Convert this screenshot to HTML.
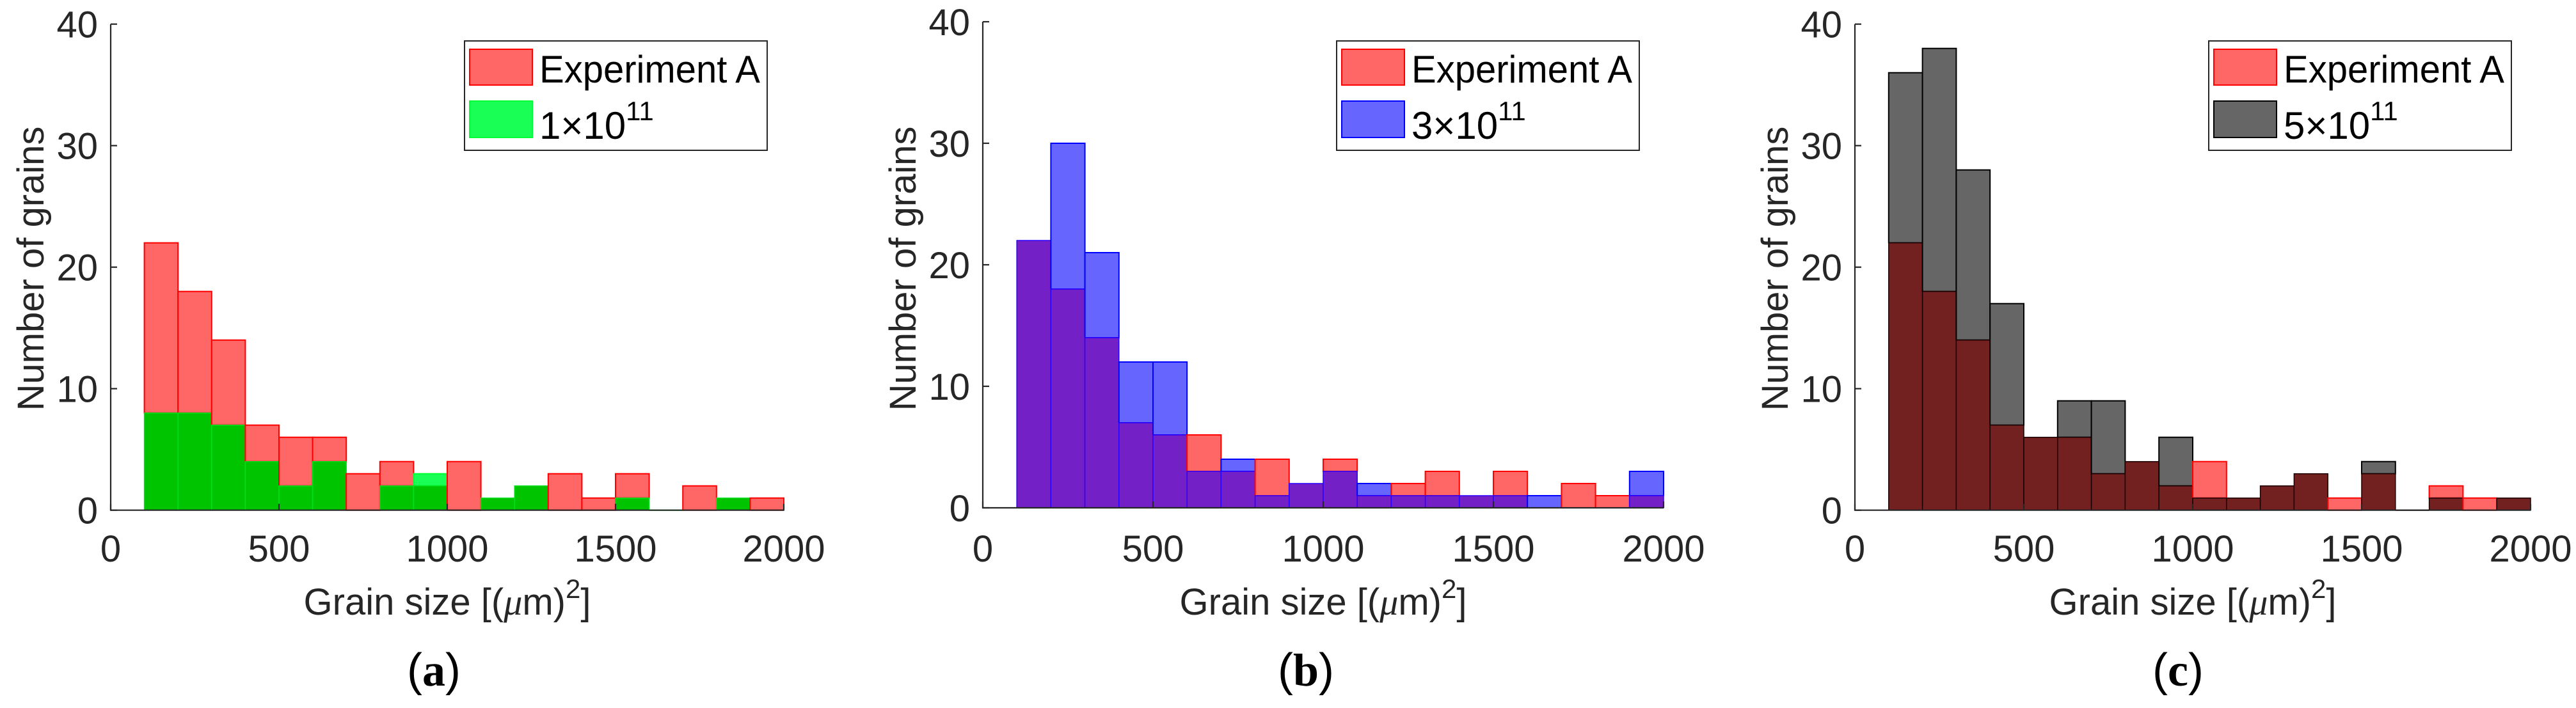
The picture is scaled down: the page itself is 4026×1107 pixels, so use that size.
<!DOCTYPE html>
<html><head><meta charset="utf-8"><style>
html,body{margin:0;padding:0;background:#fff;}
svg{display:block;}
text{font-family:"Liberation Sans",sans-serif;}
</style></head>
<body>
<svg id="fig" width="4026" height="1107" viewBox="0 0 4026 1107" xmlns="http://www.w3.org/2000/svg"></svg>
<script>
// Data (bins of width 100 from 100 to 2000)
const binStarts = [100,200,300,400,500,600,700,800,900,1000,1100,1200,1300,1400,1500,1600,1700,1800,1900];
const expA = [22,18,14,7,6,6,3,4,2,4,1,2,3,1,3,0,2,1,1];
const sim1e11 = [8,8,7,4,2,4,0,2,3,0,1,2,0,0,1,0,0,1,0];
const sim3e11 = [22,30,21,12,12,3,4,1,2,3,2,1,1,1,1,1,0,0,3];
const sim5e11 = [36,38,28,17,6,9,9,4,6,1,1,2,3,0,4,0,1,0,1];
const xTicks = [0,500,1000,1500,2000];
const yTicks = [0,10,20,30,40];
const binWidth = 100;

const NS = "http://www.w3.org/2000/svg";
const svg = document.getElementById('fig');
function mk(tag, attrs, parent){
  const e = document.createElementNS(NS, tag);
  for (const k in attrs) e.setAttribute(k, attrs[k]);
  (parent||svg).appendChild(e);
  return e;
}

const panels = [
  {key:'a', ax:173, y0:797.7, y40:37.7, xs:0.526, sim:sim1e11, label:'1\u00d710', simFill:'#19ff55', simEdge:'#00ff33', ovFill:'#00c400', ovEdge:'#00e020'},
  {key:'b', ax:1536, y0:794, y40:34, xs:0.532, sim:sim3e11, label:'3\u00d710', simFill:'#6666ff', simEdge:'#0000ff', ovFill:'#7321c6', ovEdge:'#2a00ff'},
  {key:'c', ax:2899, y0:797.7, y40:37.7, xs:0.528, sim:sim5e11, label:'5\u00d710', simFill:'#666666', simEdge:'#000000', ovFill:'#732020', ovEdge:'#1a0000'}
];

panels.forEach(p => {
  const g = mk('g', {});
  
  
  const X = v => p.ax + v * p.xs;
  const Y = v => p.y0 - v * (p.y0 - p.y40) / 40;

  // bars
  binStarts.forEach((b, i) => {
    const a = expA[i], s = p.sim[i], m = Math.min(a, s);
    const x = X(b), w = X(b + binWidth) - X(b);
    if (a > m) {
      const r = mk('rect', {x:x, y:Y(a), width:w, height:Y(m)-Y(a), fill:'#ff6666', stroke:'#ff0000', 'stroke-width':2}, g);
      
      
    }
    if (s > m) {
      const r = mk('rect', {x:x, y:Y(s), width:w, height:Y(m)-Y(s), fill:p.simFill, stroke:p.simEdge, 'stroke-width':2}, g);
      
      
    }
    if (m > 0) {
      const r = mk('rect', {x:x, y:Y(m), width:w, height:Y(0)-Y(m), fill:p.ovFill, stroke:p.ovEdge, 'stroke-width':1.5}, g);
      
      
    }
    if (a === 0 && s === 0) {
      mk('line', {x1:x, x2:x+w, y1:Y(0), y2:Y(0), stroke:p.simEdge, 'stroke-width':2}, g);
    }
  });

  // axes
  const ax = mk('path', {d:`M${X(0)} ${Y(40)} V${Y(0)} H${X(2000)}`, fill:'none', stroke:'#262626', 'stroke-width':2.2}, g);
  
  
  yTicks.forEach(t => {
    mk('line', {x1:X(0), x2:X(0)+10, y1:Y(t), y2:Y(t), stroke:'#262626', 'stroke-width':2.2}, g);
    const tx = mk('text', {x:X(0)-20, y:Y(t)+21, 'font-size':58, fill:'#262626', 'text-anchor':'end'}, g);
    tx.textContent = t;
    
    
  });
  xTicks.forEach(t => {
    mk('line', {x1:X(t), x2:X(t), y1:Y(0), y2:Y(0)-10, stroke:'#262626', 'stroke-width':2.2}, g);
    const tx = mk('text', {x:X(t), y:878, 'font-size':58, fill:'#262626', 'text-anchor':'middle'}, g);
    tx.textContent = t;
    
    
  });

  // axis titles
  const yl = mk('text', {x:0, y:0, 'font-size':58, fill:'#262626', 'text-anchor':'middle', transform:`translate(${X(0)-105},420) rotate(-90)`}, g);
  yl.textContent = 'Number of grains';
  
  

  const xl = mk('text', {x:X(1000), y:961, 'font-size':58, fill:'#262626', 'text-anchor':'middle'}, g);
  
  
  xl.innerHTML = 'Grain size [(<tspan font-family="Liberation Serif" font-style="italic">\u03bc</tspan>m)<tspan dy="-26" font-size="42">2</tspan><tspan dy="26">]</tspan>';

  // caption
  const cap = mk('text', {x:X(0)+505, y:1072, 'font-size':72, fill:'#000', 'text-anchor':'middle', 'font-family':'Liberation Serif'}, g);
  
  
  cap.innerHTML = '(<tspan font-weight="bold" font-family="Liberation Serif">' + p.key + '</tspan>)';

  // legend
  const lx = X(0) + 553;
  const lg = mk('g', {}, g);
  
  
  mk('rect', {x:lx, y:64, width:473, height:171, fill:'#fff', stroke:'#262626', 'stroke-width':2}, lg);
  const s1 = mk('rect', {x:lx+8, y:77, width:98, height:56, fill:'#ff6666', stroke:'#ff0000', 'stroke-width':2}, lg);
  
  
  const t1 = mk('text', {x:lx+117, y:129, 'font-size':60, fill:'#000', textLength:345, lengthAdjust:'spacingAndGlyphs'}, lg);
  t1.textContent = 'Experiment A';
  
  
  const s2 = mk('rect', {x:lx+8, y:158, width:98, height:57, fill:p.simFill, stroke:p.simEdge, 'stroke-width':2}, lg);
  
  
  const t2 = mk('text', {x:lx+117, y:217, 'font-size':60, fill:'#000'}, lg);
  
  
  t2.innerHTML = p.label + '<tspan dy="-29" font-size="42">11</tspan>';
});
</script>
</body></html>
